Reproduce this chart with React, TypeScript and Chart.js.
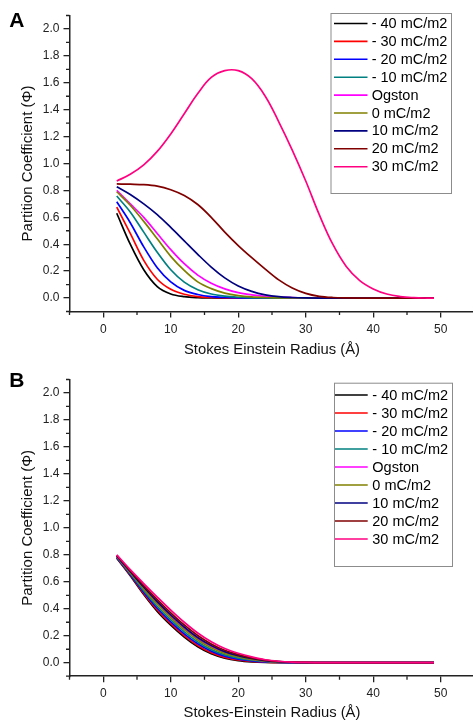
import React, { useEffect, useRef } from 'react';
import { Chart, registerables } from 'chart.js';

Chart.register(...registerables);

const FONT = "'Liberation Sans', Arial, Helvetica, sans-serif";

// Stokes-Einstein radius (Å)
const radius = [2, 4, 6, 8, 10, 12, 14, 16, 18, 20, 22, 24, 26, 28, 30, 32, 34, 36, 38, 40, 42, 44, 46, 48, 49];

const seriesLabels = ['- 40 mC/m2', '- 30 mC/m2', '- 20 mC/m2', '- 10 mC/m2', 'Ogston', '0 mC/m2', '10 mC/m2', '20 mC/m2', '30 mC/m2'];
const seriesColors = ['#000000', '#FF0000', '#0000FF', '#008080', '#FF00FF', '#808000', '#000080', '#800000', '#FF0080'];

// Panel A
const aM40 = [0.63, 0.40, 0.21, 0.085, 0.03, 0.01, 0.003, 0.001, 0, 0, 0, 0, 0, 0, 0, 0, 0, 0, 0, 0, 0, 0, 0, 0, 0];
const aM30 = [0.675, 0.48, 0.28, 0.14, 0.065, 0.028, 0.011, 0.004, 0.001, 0, 0, 0, 0, 0, 0, 0, 0, 0, 0, 0, 0, 0, 0, 0, 0];
const aM20 = [0.716, 0.56, 0.38, 0.225, 0.12, 0.057, 0.026, 0.01, 0.004, 0.001, 0, 0, 0, 0, 0, 0, 0, 0, 0, 0, 0, 0, 0, 0, 0];
const aM10 = [0.758, 0.64, 0.49, 0.34, 0.21, 0.118, 0.062, 0.03, 0.014, 0.006, 0.002, 0.001, 0, 0, 0, 0, 0, 0, 0, 0, 0, 0, 0, 0, 0];
const aOgston = [0.80, 0.70, 0.60, 0.48, 0.36, 0.255, 0.17, 0.11, 0.068, 0.04, 0.024, 0.013, 0.007, 0.003, 0.001, 0, 0, 0, 0, 0, 0, 0, 0, 0, 0];
const aZero = [0.79, 0.69, 0.57, 0.44, 0.31, 0.205, 0.12, 0.07, 0.037, 0.018, 0.008, 0.004, 0.002, 0.001, 0, 0, 0, 0, 0, 0, 0, 0, 0, 0, 0];
const aP10 = [0.828, 0.77, 0.70, 0.62, 0.525, 0.425, 0.325, 0.23, 0.15, 0.09, 0.05, 0.024, 0.01, 0.004, 0.001, 0, 0, 0, 0, 0, 0, 0, 0, 0, 0];
const aP20 = [0.848, 0.846, 0.843, 0.832, 0.805, 0.762, 0.695, 0.60, 0.49, 0.39, 0.30, 0.215, 0.135, 0.075, 0.035, 0.013, 0.004, 0.001, 0, 0, 0, 0, 0, 0, 0];
const aP30 = [0.87, 0.92, 0.99, 1.09, 1.22, 1.37, 1.52, 1.64, 1.69, 1.69, 1.63, 1.50, 1.31, 1.10, 0.87, 0.62, 0.40, 0.235, 0.13, 0.068, 0.03, 0.011, 0.003, 0, 0];

// Panel B
const bM40 = [0.775, 0.645, 0.505, 0.38, 0.278, 0.19, 0.118, 0.066, 0.033, 0.015, 0.006, 0.002, 0.001, 0, 0, 0, 0, 0, 0, 0, 0, 0, 0, 0, 0];
const bM30 = [0.778, 0.650, 0.513, 0.391, 0.289, 0.201, 0.128, 0.075, 0.040, 0.021, 0.010, 0.004, 0.002, 0.001, 0, 0, 0, 0, 0, 0, 0, 0, 0, 0, 0];
const bM20 = [0.781, 0.655, 0.523, 0.404, 0.303, 0.214, 0.140, 0.086, 0.049, 0.027, 0.014, 0.006, 0.003, 0.001, 0, 0, 0, 0, 0, 0, 0, 0, 0, 0, 0];
const bM10 = [0.784, 0.661, 0.534, 0.417, 0.317, 0.229, 0.154, 0.097, 0.058, 0.034, 0.019, 0.009, 0.005, 0.002, 0.001, 0, 0, 0, 0, 0, 0, 0, 0, 0, 0];
const bOgston = [0.790, 0.671, 0.553, 0.442, 0.343, 0.254, 0.177, 0.118, 0.075, 0.047, 0.027, 0.014, 0.007, 0.003, 0.001, 0, 0, 0, 0, 0, 0, 0, 0, 0, 0];
const bZero = [0.788, 0.668, 0.546, 0.434, 0.334, 0.245, 0.169, 0.111, 0.069, 0.043, 0.025, 0.012, 0.006, 0.003, 0.001, 0, 0, 0, 0, 0, 0, 0, 0, 0, 0];
const bP10 = [0.792, 0.676, 0.561, 0.453, 0.354, 0.265, 0.187, 0.127, 0.082, 0.052, 0.031, 0.016, 0.008, 0.003, 0.001, 0.001, 0, 0, 0, 0, 0, 0, 0, 0, 0];
const bP20 = [0.796, 0.682, 0.572, 0.468, 0.370, 0.280, 0.202, 0.139, 0.092, 0.060, 0.036, 0.019, 0.009, 0.004, 0.002, 0.001, 0, 0, 0, 0, 0, 0, 0, 0, 0];
const bP30 = [0.80, 0.69, 0.587, 0.487, 0.39, 0.30, 0.22, 0.155, 0.105, 0.07, 0.043, 0.022, 0.011, 0.005, 0.002, 0.001, 0, 0, 0, 0, 0, 0, 0, 0, 0];

const panelAData = [aM40, aM30, aM20, aM10, aOgston, aZero, aP10, aP20, aP30];
const panelBData = [bM40, bM30, bM20, bM10, bOgston, bZero, bP10, bP20, bP30];

const xMajorTicks = [0, 10, 20, 30, 40, 50];
const xMinorTicks = [-5, 5, 15, 25, 35, 45, 55];
const yMajorTicks = [0, 0.2, 0.4, 0.6, 0.8, 1.0, 1.2, 1.4, 1.6, 1.8, 2.0];
const yMinorTicks = [-0.1, 0.1, 0.3, 0.5, 0.7, 0.9, 1.1, 1.3, 1.5, 1.7, 1.9, 2.1];

const yTitle = 'Partition Coefficient (\u03A6)';
const xTitleA = 'Stokes Einstein Radius (\u00C5)';
const xTitleB = 'Stokes-Einstein Radius (\u00C5)';

const decorPlugin = {
  id: 'decor',
  afterDraw(chart: any, _args: any, opts: any) {
    const ctx = chart.ctx;
    const xs = chart.scales.x;
    const ys = chart.scales.y;
    const { left, bottom } = chart.chartArea;
    ctx.save();
    // minor ticks
    ctx.strokeStyle = '#222';
    ctx.lineWidth = 1.3;
    ctx.beginPath();
    for (const v of xMinorTicks) {
      const p = xs.getPixelForValue(v);
      ctx.moveTo(p, bottom);
      ctx.lineTo(p, bottom + 3.5);
    }
    for (const v of yMinorTicks) {
      const p = ys.getPixelForValue(v);
      ctx.moveTo(left, p);
      ctx.lineTo(left - 3.5, p);
    }
    ctx.stroke();
    // legend
    const lg = opts.legend;
    ctx.lineWidth = 1;
    ctx.strokeStyle = '#8c8c8c';
    ctx.strokeRect(lg.x + 0.5, lg.y + 0.5, lg.w, lg.h);
    ctx.font = `${lg.fontSize}px ${FONT}`;
    ctx.textBaseline = 'middle';
    ctx.textAlign = 'left';
    chart.data.datasets.forEach((ds: any, i: number) => {
      const cy = lg.firstRow + i * lg.rowGap;
      ctx.strokeStyle = ds.borderColor;
      ctx.lineWidth = 1.6;
      ctx.beginPath();
      ctx.moveTo(lg.lineX0, cy);
      ctx.lineTo(lg.lineX1, cy);
      ctx.stroke();
      ctx.fillStyle = '#000';
      ctx.fillText(ds.label, lg.textX, cy + 0.5);
    });
    // panel letter
    ctx.font = `bold 21px ${FONT}`;
    ctx.textBaseline = 'alphabetic';
    ctx.fillStyle = '#000';
    ctx.fillText(opts.letter, opts.letterX, opts.letterY);
    ctx.restore();
  },
};

type PanelProps = {
  data: number[][];
  xTitle: string;
  letter: string;
  top: number;
  padTop: number;
  xHeight: number;
  xTitlePad: number;
  legend: any;
  letterY: number;
  smoothLast: boolean;
};

function Panel(props: PanelProps) {
  const ref = useRef<HTMLCanvasElement | null>(null);
  useEffect(() => {
    if (!ref.current) return;
    const last = props.data.length - 1;
    const datasets = props.data.map((vals, i) => ({
      label: seriesLabels[i],
      data: radius.map((r, j) => ({ x: r, y: vals[j] })),
      borderColor: seriesColors[i],
      backgroundColor: seriesColors[i],
      borderWidth: 1.7,
      pointRadius: 0,
      fill: false,
      cubicInterpolationMode: (props.smoothLast && i === last ? 'default' : 'monotone') as any,
      tension: 0.4,
      order: seriesLabels.length - 1 - i,
    }));
    const tickFont = { family: FONT, size: 12 };
    const chart = new Chart(ref.current, {
      type: 'line',
      data: { datasets },
      plugins: [decorPlugin],
      options: {
        responsive: false,
        animation: false,
        devicePixelRatio: 1,
        layout: { padding: { top: props.padTop, right: 5.5, bottom: 0, left: 0 } },
        plugins: {
          legend: { display: false },
          tooltip: { enabled: false },
          decor: {
            legend: props.legend,
            letter: props.letter,
            letterX: 9.3,
            letterY: props.letterY,
          },
        } as any,
        scales: {
          x: {
            type: 'linear',
            min: -5,
            max: 55,
            afterFit: (s: any) => {
              s.height = props.xHeight;
            },
            afterBuildTicks: (s: any) => {
              s.ticks = xMajorTicks.map((v) => ({ value: v }));
            },
            ticks: {
              font: tickFont,
              color: '#222',
              padding: 4.5,
              maxRotation: 0,
              autoSkip: false,
              callback: (v: any) => String(v),
            },
            grid: {
              display: true,
              drawOnChartArea: false,
              drawTicks: true,
              tickLength: 6,
              color: '#222',
              lineWidth: 1.3,
            },
            border: { display: true, color: '#222', width: 1.5 },
            title: {
              display: true,
              text: props.xTitle,
              color: '#111',
              font: { family: FONT, size: 14.8, lineHeight: 1 },
              padding: { top: 0, bottom: props.xTitlePad },
            },
          },
          y: {
            type: 'linear',
            min: -0.1,
            max: 2.1,
            afterFit: (s: any) => {
              s.width = 69.5;
            },
            afterBuildTicks: (s: any) => {
              s.ticks = yMajorTicks.map((v) => ({ value: v }));
            },
            ticks: {
              font: tickFont,
              color: '#222',
              padding: 4,
              autoSkip: false,
              callback: (v: any) => Number(v).toFixed(1),
            },
            grid: {
              display: true,
              drawOnChartArea: false,
              drawTicks: true,
              tickLength: 6,
              color: '#222',
              lineWidth: 1.3,
            },
            border: { display: true, color: '#222', width: 1.5 },
            title: {
              display: true,
              text: yTitle,
              color: '#111',
              font: { family: FONT, size: 15, lineHeight: 1 },
              padding: { top: 20.5, bottom: 0 },
            },
          },
        },
      },
    });
    return () => chart.destroy();
  }, []);
  return (
    <div
      style={{
        position: 'absolute',
        left: 0,
        top: props.top,
        width: 473,
        height: 360,
        overflow: 'hidden',
        background: '#fff',
      }}
    >
      <canvas ref={ref} width={480} height={360} style={{ display: 'block', width: 480, height: 360 }} />
    </div>
  );
}

export default function App() {
  return (
    <div style={{ position: 'absolute', left: 0, top: 0, width: 473, height: 720, overflow: 'hidden', background: '#fff' }}>
      <Panel
        data={panelAData}
        xTitle={xTitleA}
        letter="A"
        top={0}
        padTop={15.5}
        xHeight={48.5}
        xTitlePad={2.5}
        letterY={26.7}
        smoothLast={true}
        legend={{ x: 330.5, y: 13, w: 120.5, h: 180, firstRow: 23.5, rowGap: 17.9, lineX0: 334, lineX1: 367.5, textX: 371.7, fontSize: 14.5 }}
      />
      <Panel
        data={panelBData}
        xTitle={xTitleB}
        letter="B"
        top={360}
        padTop={19.5}
        xHeight={43.8}
        xTitlePad={0}
        letterY={27}
        smoothLast={false}
        legend={{ x: 334, y: 22.7, w: 118, h: 183.3, firstRow: 35, rowGap: 18, lineX0: 335, lineX1: 367.7, textX: 372.3, fontSize: 14.5 }}
      />
    </div>
  );
}
